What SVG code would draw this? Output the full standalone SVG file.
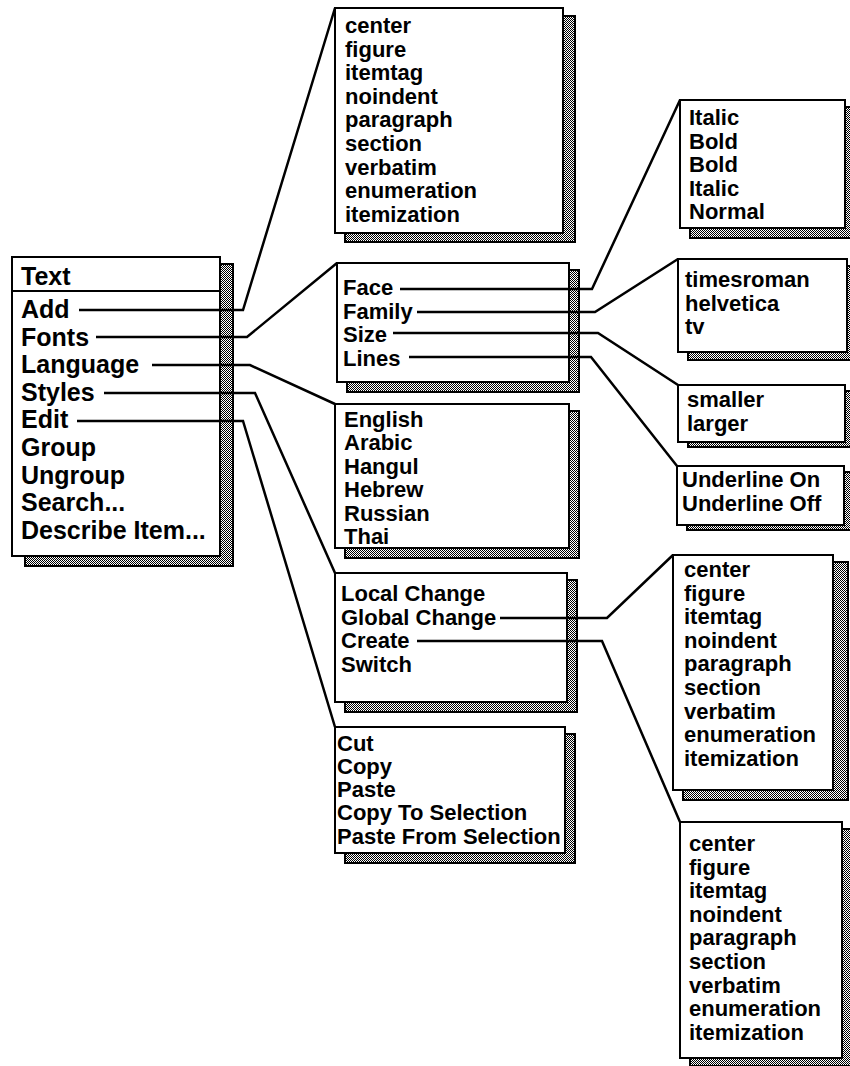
<svg xmlns="http://www.w3.org/2000/svg" width="850" height="1066" viewBox="0 0 850 1066">
<defs>
<pattern id="dots" width="2" height="2" patternUnits="userSpaceOnUse">
<rect width="2" height="2" fill="#ffffff"/>
<rect width="1" height="1" fill="#000000"/>
<rect x="1" y="1" width="1" height="1" fill="#000000"/>
</pattern>
<style>
.box{fill:#ffffff;stroke:#000000;stroke-width:2}
.shadow{fill:url(#dots);stroke:#000000;stroke-width:2}
.t{font-family:"Liberation Sans",Arial,Helvetica,sans-serif;font-weight:bold;font-size:22px;fill:#000000}
.m{font-family:"Liberation Sans",Arial,Helvetica,sans-serif;font-weight:bold;font-size:25px;fill:#000000}
.c{fill:none;stroke:#000000;stroke-width:2.5;stroke-linejoin:miter}
</style>
</defs>
<rect width="850" height="1066" fill="#ffffff"/>

<g id="text-menu">
<rect class="shadow" x="25" y="264" width="208" height="302"/>
<rect class="box" x="12" y="257" width="208" height="299"/>
<line x1="12" y1="291" x2="220" y2="291" stroke="#000" stroke-width="2"/>
<text class="m" x="21" y="285">Text</text>
<text class="m" x="21" y="318">Add</text>
<text class="m" x="21" y="345.6">Fonts</text>
<text class="m" x="21" y="373.2">Language</text>
<text class="m" x="21" y="400.8">Styles</text>
<text class="m" x="21" y="428.4">Edit</text>
<text class="m" x="21" y="456">Group</text>
<text class="m" x="21" y="483.6">Ungroup</text>
<text class="m" x="21" y="511.2">Search...</text>
<text class="m" x="21" y="538.8">Describe Item...</text>
</g>

<g id="add-menu">
<rect class="shadow" x="345" y="16" width="230" height="226"/>
<rect class="box" x="335" y="8" width="228" height="225"/>
<text class="t" x="345" y="33">center</text>
<text class="t" x="345" y="56.6">figure</text>
<text class="t" x="345" y="80.2">itemtag</text>
<text class="t" x="345" y="103.8">noindent</text>
<text class="t" x="345" y="127.4">paragraph</text>
<text class="t" x="345" y="151">section</text>
<text class="t" x="345" y="174.6">verbatim</text>
<text class="t" x="345" y="198.2">enumeration</text>
<text class="t" x="345" y="221.8">itemization</text>
</g>

<g id="fonts-menu">
<rect class="shadow" x="347" y="270" width="232" height="122"/>
<rect class="box" x="337" y="263" width="232" height="119"/>
<text class="t" x="343" y="295">Face</text>
<text class="t" x="343" y="318.5">Family</text>
<text class="t" x="343" y="342">Size</text>
<text class="t" x="343" y="365.5">Lines</text>
</g>

<g id="language-menu">
<rect class="shadow" x="345" y="411" width="234" height="147"/>
<rect class="box" x="335" y="404" width="234" height="144"/>
<text class="t" x="344" y="426.5">English</text>
<text class="t" x="344" y="450">Arabic</text>
<text class="t" x="344" y="473.5">Hangul</text>
<text class="t" x="344" y="497">Hebrew</text>
<text class="t" x="344" y="520.5">Russian</text>
<text class="t" x="344" y="544">Thai</text>
</g>

<g id="styles-menu">
<rect class="shadow" x="345" y="580" width="232" height="132"/>
<rect class="box" x="335" y="573" width="232" height="129"/>
<text class="t" x="341" y="601">Local Change</text>
<text class="t" x="341" y="624.5">Global Change</text>
<text class="t" x="341" y="648">Create</text>
<text class="t" x="341" y="671.5">Switch</text>
</g>

<g id="edit-menu">
<rect class="shadow" x="345" y="734" width="230" height="129"/>
<rect class="box" x="335" y="727" width="230" height="126"/>
<text class="t" x="337" y="751">Cut</text>
<text class="t" x="337" y="774">Copy</text>
<text class="t" x="337" y="797">Paste</text>
<text class="t" x="337" y="820">Copy To Selection</text>
<text class="t" x="337" y="843.5">Paste From Selection</text>
</g>

<g id="face-menu">
<rect class="shadow" x="690" y="107" width="165" height="131"/>
<rect class="box" x="680" y="100" width="165" height="128"/>
<text class="t" x="689" y="125">Italic</text>
<text class="t" x="689" y="148.5">Bold</text>
<text class="t" x="689" y="172">Bold</text>
<text class="t" x="689" y="195.5">Italic</text>
<text class="t" x="689" y="219">Normal</text>
</g>

<g id="family-menu">
<rect class="shadow" x="688" y="266" width="169" height="94"/>
<rect class="box" x="678" y="259" width="169" height="93"/>
<text class="t" x="685" y="287">timesroman</text>
<text class="t" x="685" y="310.5">helvetica</text>
<text class="t" x="685" y="334">tv</text>
</g>

<g id="size-menu">
<rect class="shadow" x="688" y="391" width="167" height="56"/>
<rect class="box" x="678" y="385" width="167" height="57"/>
<text class="t" x="687" y="407">smaller</text>
<text class="t" x="687" y="430.5">larger</text>
</g>

<g id="lines-menu">
<rect class="shadow" x="687" y="472" width="167" height="58"/>
<rect class="box" x="677" y="466" width="167" height="59"/>
<text class="t" x="682" y="487">Underline On</text>
<text class="t" x="682" y="510.5">Underline Off</text>
</g>

<g id="global-change-menu">
<rect class="shadow" x="683" y="562" width="165" height="238"/>
<rect class="box" x="673" y="555" width="160" height="235"/>
<text class="t" x="684" y="577">center</text>
<text class="t" x="684" y="600.6">figure</text>
<text class="t" x="684" y="624.2">itemtag</text>
<text class="t" x="684" y="647.8">noindent</text>
<text class="t" x="684" y="671.4">paragraph</text>
<text class="t" x="684" y="695">section</text>
<text class="t" x="684" y="718.6">verbatim</text>
<text class="t" x="684" y="742.2">enumeration</text>
<text class="t" x="684" y="765.8">itemization</text>
</g>

<g id="create-menu">
<rect class="shadow" x="690" y="829" width="165" height="237"/>
<rect class="box" x="680" y="822" width="162" height="236"/>
<text class="t" x="689" y="851">center</text>
<text class="t" x="689" y="874.6">figure</text>
<text class="t" x="689" y="898.2">itemtag</text>
<text class="t" x="689" y="921.8">noindent</text>
<text class="t" x="689" y="945.4">paragraph</text>
<text class="t" x="689" y="969">section</text>
<text class="t" x="689" y="992.6">verbatim</text>
<text class="t" x="689" y="1016.2">enumeration</text>
<text class="t" x="689" y="1039.8">itemization</text>
</g>

<g id="connectors">
<polyline class="c" points="79,310 243,310 335,8"/>
<polyline class="c" points="96,337 247,337 337,263"/>
<polyline class="c" points="152,365 250,365 335,404"/>
<polyline class="c" points="104,393 255,393 335,573"/>
<polyline class="c" points="77,421 243,421 335,727"/>
<polyline class="c" points="400,289 592,289 680,100"/>
<polyline class="c" points="417,312 595,312 678,259"/>
<polyline class="c" points="393,333 598,333 678,385"/>
<polyline class="c" points="409,357 591,357 677,466"/>
<polyline class="c" points="500,618 607,618 673,555"/>
<polyline class="c" points="417,641 602,641 680,822"/>
</g>
</svg>
